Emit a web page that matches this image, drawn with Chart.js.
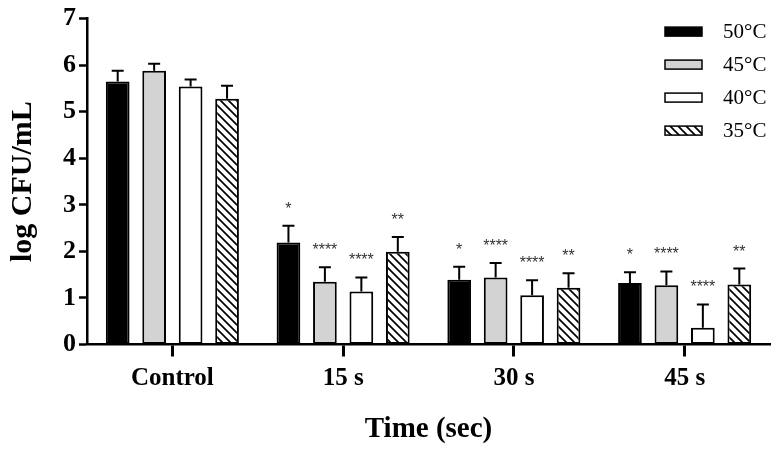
<!DOCTYPE html>
<html>
<head>
<meta charset="utf-8">
<script src="https://cdn.jsdelivr.net/npm/chart.js@4.4.1/dist/chart.umd.min.js"></script>
<style>
html,body{margin:0;padding:0;background:#fff;}
#wrap{width:780px;height:449px;position:relative;}
</style>
</head>
<body>
<div id="wrap"><canvas id="c"></canvas></div>
<script>
// ---- data ----
const categories = ['Control', '15 s', '30 s', '45 s'];
const seriesLabels = ['50\u00B0C', '45\u00B0C', '40\u00B0C', '35\u00B0C'];
const v50 = [5.65, 2.19, 1.39, 1.32];
const v45 = [5.88, 1.35, 1.44, 1.27];
const v40 = [5.54, 1.14, 1.06, 0.36];
const v35 = [5.28, 1.99, 1.22, 1.29];
const e50 = [0.23, 0.36, 0.28, 0.23];
const e45 = [0.15, 0.31, 0.31, 0.30];
const e40 = [0.15, 0.30, 0.32, 0.50];
const e35 = [0.28, 0.32, 0.31, 0.34];
const sig50 = ['', '*', '*', '*'];
const sig45 = ['', '****', '****', '****'];
const sig40 = ['', '****', '****', '****'];
const sig35 = ['', '**', '**', '**'];
const yTicks = [0, 1, 2, 3, 4, 5, 6, 7];

// hatch pattern
function hatch() {
  const s = 8;
  const c = document.createElement('canvas');
  c.width = s; c.height = s;
  const g = c.getContext('2d');
  g.fillStyle = '#fff'; g.fillRect(0, 0, s, s);
  g.strokeStyle = '#000'; g.lineWidth = 1.7;
  g.beginPath();
  g.moveTo(-1, -1); g.lineTo(s + 1, s + 1);
  g.moveTo(-1, s - 1); g.lineTo(1, s + 1);
  g.moveTo(s - 1, -1); g.lineTo(s + 1, 1);
  g.stroke();
  return document.getElementById('c').getContext('2d').createPattern(c, 'repeat');
}
const hatchFill = hatch();

const fills = ['#000000', '#d3d3d3', '#ffffff', hatchFill];
const values = [v50, v45, v40, v35];
const errs = [e50, e45, e40, e35];
const sigs = [sig50, sig45, sig40, sig35];

const datasets = values.map((v, i) => ({
  label: seriesLabels[i],
  data: v,
  backgroundColor: fills[i],
  borderColor: '#000',
  borderWidth: 2,
  borderSkipped: false,
  categoryPercentage: 0.854,
  barPercentage: 0.65
}));

const errorPlugin = {
  id: 'errs',
  afterDatasetsDraw(chart) {
    const ctx = chart.ctx;
    const y = chart.scales.y;
    ctx.save();
    chart.data.datasets.forEach((ds, di) => {
      const meta = chart.getDatasetMeta(di);
      meta.data.forEach((bar, j) => {
        const top = y.getPixelForValue(ds.data[j]);
        const cap = y.getPixelForValue(ds.data[j] + errs[di][j]);
        ctx.strokeStyle = '#000';
        ctx.lineWidth = 2;
        ctx.beginPath();
        ctx.moveTo(bar.x, top);
        ctx.lineTo(bar.x, cap);
        ctx.moveTo(bar.x - 6, cap);
        ctx.lineTo(bar.x + 6, cap);
        ctx.stroke();
        const s = sigs[di][j];
        if (s) {
          ctx.fillStyle = '#333';
          ctx.font = '16px "Liberation Sans", Arial, sans-serif';
          ctx.textAlign = 'center';
          ctx.textBaseline = 'alphabetic';
          ctx.fillText(s, bar.x, cap - 12);
        }
      });
    });
    ctx.restore();
  }
};

const legendPlugin = {
  id: 'customLegend',
  afterDraw(chart) {
    const ctx = chart.ctx;
    const ca = chart.chartArea;
    ctx.save();
    chart.data.datasets.forEach((ds, i) => {
      const cy = ca.top + 13 + i * 33;
      const bx = ca.right - 105;
      ctx.fillStyle = ds.backgroundColor;
      ctx.fillRect(bx, cy - 4.5, 37, 9);
      ctx.strokeStyle = '#000';
      ctx.lineWidth = 1.5;
      ctx.strokeRect(bx, cy - 4.5, 37, 9);
      ctx.fillStyle = '#000';
      ctx.font = '21px "Liberation Serif", "Times New Roman", serif';
      ctx.textAlign = 'left';
      ctx.textBaseline = 'middle';
      ctx.fillText(ds.label, bx + 58, cy + 1);
    });
    ctx.restore();
  }
};

const serif = '"Liberation Serif", "Times New Roman", serif';

new Chart(document.getElementById('c'), {
  type: 'bar',
  data: { labels: categories, datasets },
  options: {
    responsive: true,
    maintainAspectRatio: false,
    animation: false,
    layout: { padding: { top: 0, right: 10, left: 0, bottom: 0 } },
    plugins: { legend: { display: false }, tooltip: { enabled: false } },
    scales: {
      x: {
        offset: true,
        afterFit(scale) { scale.height = 104.5; },
        grid: { display: true, drawOnChartArea: false, drawTicks: true, offset: false, tickLength: 12, tickWidth: 3, tickColor: '#000' },
        border: { display: true, color: '#000', width: 2.5 },
        ticks: { color: '#000', padding: 7, font: { family: serif, weight: 'bold', size: 25 } },
        title: { display: true, text: 'Time (sec)', color: '#000', padding: { top: 20, bottom: 2 }, font: { family: serif, weight: 'bold', size: 29 } }
      },
      y: {
        min: 0, max: 7,
        afterFit(scale) { scale.width = 87; },
        afterBuildTicks(scale) { scale.ticks = yTicks.map(v => ({ value: v })); },
        grid: { display: true, drawOnChartArea: false, drawTicks: true, tickLength: 8, tickWidth: 2.5, tickColor: '#000' },
        border: { display: true, color: '#000', width: 2.5 },
        ticks: { color: '#000', padding: 3, font: { family: serif, weight: 'bold', size: 26 } },
        title: { display: true, text: 'log CFU/mL', color: '#000', padding: { top: 5, bottom: 12 }, font: { family: serif, weight: 'bold', size: 30 } }
      }
    }
  },
  plugins: [errorPlugin, legendPlugin]
});
</script>
</body>
</html>
